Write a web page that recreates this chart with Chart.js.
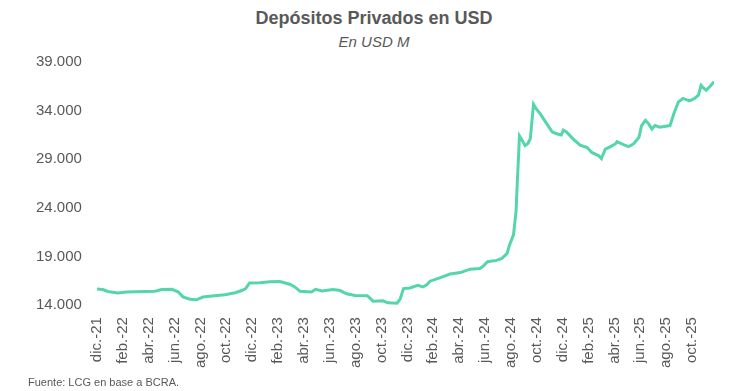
<!DOCTYPE html>
<html>
<head>
<meta charset="utf-8">
<script src="https://cdn.jsdelivr.net/npm/chart.js@4"></script>
<style>
    body { margin: 0; background: #fff; font-family: 'Liberation Sans', Arial, sans-serif; }
    .wrap { position: relative; width: 730px; height: 391px; }
    #depositosChart { position: absolute; left: 0; top: 0; }
    .titulo { position: absolute; left: 0; width: 748px; top: 8px; text-align: center; font-weight: bold; font-size: 18px; color: #595959; }
    .subtitulo { position: absolute; left: 0; width: 748px; top: 33px; text-align: center; font-style: italic; font-size: 15px; color: #595959; }
    .fuente { position: absolute; left: 28px; top: 376px; font-size: 11px; color: #595959; }
</style>
</head>
<body>
<div class="wrap">
    <div class="titulo">Depósitos Privados en USD</div>
    <div class="subtitulo">En USD M</div>
    <canvas id="depositosChart" width="730" height="391"></canvas>
    <div class="fuente">Fuente: LCG en base a BCRA.</div>
</div>
<script>
// Etiquetas del eje X (cada 2 meses desde dic.-21)
const etiquetas = ['dic.-21', 'feb.-22', 'abr.-22', 'jun.-22', 'ago.-22', 'oct.-22', 'dic.-22', 'feb.-23', 'abr.-23', 'jun.-23', 'ago.-23', 'oct.-23',
    'dic.-23', 'feb.-24', 'abr.-24', 'jun.-24', 'ago.-24', 'oct.-24', 'dic.-24', 'feb.-25', 'abr.-25', 'jun.-25', 'ago.-25', 'oct.-25'];

// Meses transcurridos desde dic.-21
const meses = [0, 0.45, 0.85, 1.6, 2.3, 3.0, 3.8, 4.5, 5.0, 5.8, 6.3, 6.65, 7.2, 7.7, 8.2, 8.9, 9.9, 10.7, 11.2, 11.5, 11.8,
    12.6, 13.4, 14.15, 14.9, 15.3, 15.7, 16.6, 16.9, 17.4, 18.25, 18.8, 19.3, 19.95, 20.9, 21.35, 22.1, 22.5, 23.2, 23.45, 23.7,
    24.2, 24.8, 25.2, 25.5, 25.75, 26.5, 27.3, 28.1, 28.85, 29.6, 29.8, 30.2, 30.9, 31.3, 31.7, 31.9, 32.2, 32.4, 32.5, 32.6, 32.66,
    32.8, 33.1, 33.3, 33.5, 33.75, 33.95, 34.26, 34.6, 35.2, 35.6, 35.9, 36.05, 36.3, 36.8, 37.35, 37.9, 38.25, 38.8, 39.0, 39.3,
    39.7, 40.1, 40.2, 40.7, 41.1, 41.5, 41.9, 42.1, 42.4, 42.65, 42.9, 43.15, 43.5, 44.3, 44.6, 44.95, 45.3, 45.8, 46.2, 46.5,
    46.7, 46.9, 47.1, 47.4, 47.7];

// Depósitos privados en USD M
const depositos = [15660, 15600, 15400, 15250, 15350, 15380, 15400, 15420, 15600, 15620, 15350, 14850, 14600, 14550, 14830, 14930, 15070, 15280, 15500, 15700, 16280,
    16300, 16400, 16420, 16150, 15870, 15420, 15350, 15620, 15450, 15600, 15500, 15170, 15000, 14970, 14410, 14450, 14240, 14200, 14650, 15700,
    15760, 16040, 15870, 16100, 16460, 16800, 17200, 17350, 17700, 17770, 17940, 18460, 18600, 18800, 19300, 20200, 21200, 23650, 26760, 29500, 31400,
    31100, 30400, 30600, 31100, 34650, 34200, 33700, 33000, 31800, 31600, 31500, 32000, 31800, 31100, 30450, 30200, 29700, 29350, 29070, 30050,
    30300, 30600, 30800, 30500, 30300, 30600, 31250, 32460, 33000, 32640, 32100, 32460, 32300, 32460, 33700, 34900, 35250, 35000, 35250, 35600,
    36600, 36300, 36100, 36500, 36960];

const puntos = meses.map((m, i) => ({ x: m, y: depositos[i] }));

const gris = '#595959';

new Chart(document.getElementById('depositosChart'), {
    type: 'line',
    data: {
        datasets: [{
            label: 'Depósitos Privados en USD',
            data: puntos,
            borderColor: '#55d6aa',
            borderWidth: 3,
            pointRadius: 0,
            tension: 0,
            fill: false
        }]
    },
    options: {
        responsive: false,
        animation: false,
        layout: {
            padding: { left: 29, right: 16, top: 62, bottom: 19 }
        },
        plugins: {
            legend: { display: false },
            tooltip: { enabled: false }
        },
        scales: {
            x: {
                type: 'linear',
                min: 0,
                max: 47.7,
                grid: { display: false },
                border: { display: false },
                ticks: {
                    stepSize: 2,
                    includeBounds: false,
                    autoSkip: false,
                    maxTicksLimit: 40,
                    minRotation: 90,
                    maxRotation: 90,
                    padding: 4,
                    color: gris,
                    font: { family: "'Liberation Sans', Arial, sans-serif", size: 15 },
                    callback: function(value) {
                        return etiquetas[value / 2] || '';
                    }
                }
            },
            y: {
                min: 14000,
                max: 39000,
                grid: { display: false },
                border: { display: false },
                ticks: {
                    stepSize: 5000,
                    padding: 7,
                    color: gris,
                    font: { family: "'Liberation Sans', Arial, sans-serif", size: 15 },
                    callback: function(value) {
                        return String(value).replace(/\B(?=(\d{3})+(?!\d))/g, '.');
                    }
                }
            }
        }
    }
});
</script>
</body>
</html>
